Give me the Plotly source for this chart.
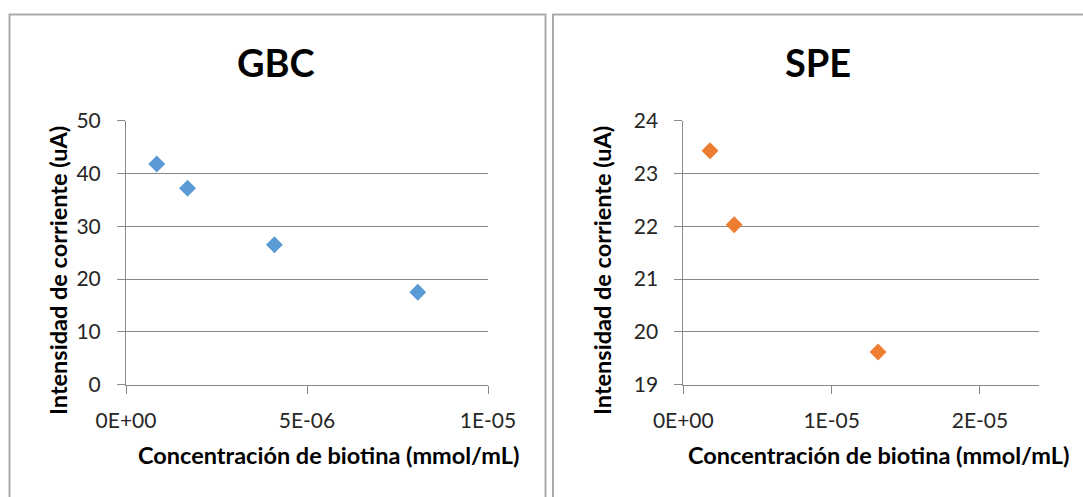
import plotly.graph_objects as go

# ---- data ----
gbc_x = [0.85e-6, 1.70e-6, 4.10e-6, 8.06e-6]
gbc_y = [41.8, 37.2, 26.5, 17.5]
spe_x = [1.80e-6, 3.43e-6, 1.313e-5]
spe_y = [23.43, 22.03, 19.62]

gbc_xticks = [0, 5e-6, 1e-5]
gbc_xticktext = ["0E+00", "5E-06", "1E-05"]
spe_xticks = [0, 1e-5, 2e-5]
spe_xticktext = ["0E+00", "1E-05", "2E-05"]

titles = ["GBC", "SPE"]
x_title = "Concentración de biotina (mmol/mL)"
y_title = "Intensidad de corriente (uA)"

W, H = 1083, 497
def px(x): return x / W
def py(y): return 1 - y / H

FONT = "Lato"
GRID = "#898989"
TICKC = "#262626"

fig = go.Figure()
fig.add_trace(go.Scatter(x=gbc_x, y=gbc_y, mode="markers", xaxis="x", yaxis="y",
                         marker=dict(symbol="diamond", size=13, color="#5b9bd5"),
                         showlegend=False))
fig.add_trace(go.Scatter(x=spe_x, y=spe_y, mode="markers", xaxis="x2", yaxis="y2",
                         marker=dict(symbol="diamond", size=13, color="#ed7d31"),
                         showlegend=False))

def xax(domain, rng, tv, tt, anchor):
    return dict(domain=domain, range=rng, tickvals=tv, ticktext=tt, anchor=anchor,
                showgrid=False, zeroline=False, showline=True, linecolor=GRID, linewidth=1,
                ticks="outside", ticklen=8, tickcolor=GRID, tickwidth=1,
                tickfont=dict(family=FONT, size=21, color=TICKC),
                ticklabelstandoff=9, automargin=False, fixedrange=True)

def yax(domain, rng, dtick, anchor):
    return dict(domain=domain, range=rng, dtick=dtick, tick0=rng[0], anchor=anchor,
                showgrid=True, gridcolor=GRID, gridwidth=1, zeroline=False,
                showline=True, linecolor=GRID, linewidth=1,
                ticks="outside", ticklen=8, tickcolor=GRID, tickwidth=1,
                tickfont=dict(family=FONT, size=21, color=TICKC),
                ticklabelstandoff=12, automargin=False, fixedrange=True)

ydom = [py(384.7), py(120.7)]
fig.update_layout(
    width=W, height=H, template="none",
    margin=dict(l=0, r=0, t=0, b=0, autoexpand=False),
    paper_bgcolor="white", plot_bgcolor="white",
    xaxis=xax([px(126), px(488)], [0, 1e-5], gbc_xticks, gbc_xticktext, "y"),
    yaxis=yax(ydom, [0, 50], 10, "x"),
    xaxis2=xax([px(683.3), px(1039.3)], [0, 2.4e-5], spe_xticks, spe_xticktext, "y2"),
    yaxis2=yax(ydom, [19, 24], 1, "x2"),
)

# chart area borders
for x0, x1 in [(9.5, 545.5), (553, 1100)]:
    fig.add_shape(type="rect", xref="paper", yref="paper",
                  x0=px(x0), x1=px(x1), y0=py(520), y1=py(14.5),
                  line=dict(color="#ababab", width=2), fillcolor="rgba(0,0,0,0)", layer="below")

anns = []
for cx, t in zip([275.5, 818], titles):
    anns.append(dict(text=t, x=px(cx), y=py(62), xref="paper", yref="paper",
                     showarrow=False, xanchor="center", yanchor="middle",
                     font=dict(family=FONT, size=38, color="black", weight="bold")))
for cx in [328, 878]:
    anns.append(dict(text=x_title, x=px(cx), y=py(455), xref="paper", yref="paper",
                     showarrow=False, xanchor="center", yanchor="middle",
                     font=dict(family=FONT, size=23.5, color="black", weight="bold")))
for cx in [58, 602]:
    anns.append(dict(text=y_title, x=px(cx), y=py(271), xref="paper", yref="paper",
                     showarrow=False, xanchor="center", yanchor="middle", textangle=-90,
                     font=dict(family=FONT, size=23.5, color="black", weight="bold")))
fig.update_layout(annotations=anns)

fig.write_html("out.html", config={"displayModeBar": False},
               post_script="document.body.style.margin='0';document.body.style.overflow='hidden';")
